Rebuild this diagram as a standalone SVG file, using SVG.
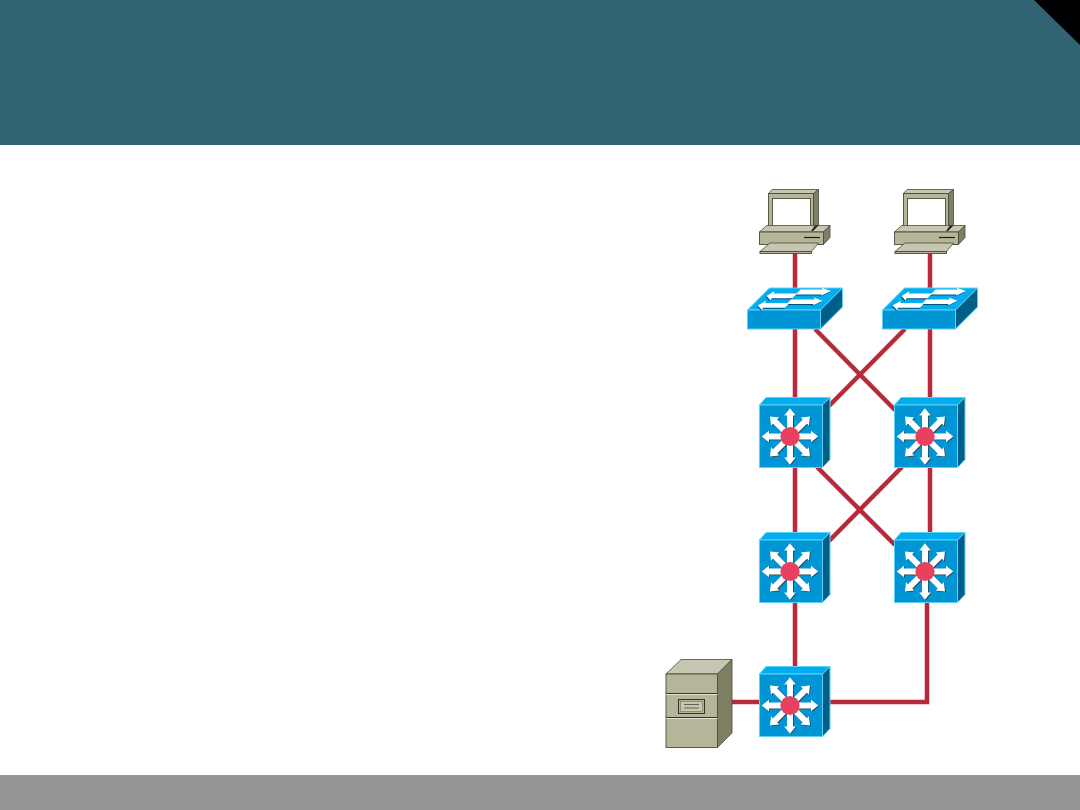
<svg xmlns="http://www.w3.org/2000/svg" width="1080" height="810" viewBox="0 0 1080 810">
  <style>
    .link { fill: none; stroke: #b8293b; stroke-width: 4.5; }
    .beige-front { fill: #b5b59a; stroke: #4a4a3c; stroke-width: .9; }
    .beige-top { fill: #c6c6b2; stroke: #4a4a3c; stroke-width: .8; }
    .beige-side { fill: #7f7f64; stroke: #4a4a3c; stroke-width: .8; }
    .blue-front { fill: #0096d6; stroke: #5fd0f5; stroke-width: 1; }
    .blue-top { fill: #00aef0; stroke: #5fd0f5; stroke-width: 1; }
    .blue-side { fill: #005f88; stroke: #5fd0f5; stroke-width: 1; }
    .ray-shade { fill: #2a4552; }
    .ray-face { fill: #fff; }
    .flow { fill: #fff; }
    .flow-shade { fill: #00507a; }
  </style>
  <defs>
    <!-- Desktop computer: monitor, base unit and keyboard -->
    <g id="pc">
      <polygon class="beige-top" points="768.5,193.5 772,189.5 818.5,189.5 813.5,193.5"/>
      <polygon class="beige-side" points="813.5,193.5 818.5,189.5 818.5,226 813.5,231"/>
      <rect class="beige-front" x="768.5" y="193.5" width="45" height="37.5"/>
      <rect x="772.5" y="198.5" width="38" height="28" fill="#fff" stroke="#4a4a3c" stroke-width=".9"/>
      <polygon class="beige-top" points="759.5,232 766.5,225.5 830,225.5 823.5,232"/>
      <polygon class="beige-side" points="823.5,232 830,225.5 830,237.5 823.5,244.5"/>
      <rect class="beige-front" x="759.5" y="232" width="64" height="12.5"/>
      <line x1="804" y1="237.5" x2="820" y2="237.5" stroke="#1f1f18" stroke-width="1.2"/>
      <polygon points="813,231 818.5,225.5 815,225.5 811,231" fill="#1f1f18"/>
      <polygon class="beige-top" points="760,251.5 770,243 818.5,243 811.5,251.5"/>
      <rect class="beige-front" x="760" y="251.5" width="51.5" height="2"/>
    </g>
    <!-- The two left-pointing and two right-pointing arrows on the switch lid -->
    <g id="flows">
      <polygon points="766.5,296 774.5,291 773.5,293.5 797,293.5 792.5,298.3 771.5,298.3 770.5,300.5"/>
      <polygon points="800.5,289.6 822.5,289.6 821.5,287.8 831,291 821,295.8 821.5,294.4 795.5,294.4"/>
      <polygon points="757.5,305.5 766,300.8 765,303 789.5,303 785,307.8 763,307.8 762,310"/>
      <polygon points="791,299.4 814.5,299.4 813.5,297.4 822.5,300.7 813,305.4 813.5,304 786.5,304"/>
    </g>
    <!-- Workgroup switch -->
    <g id="switch">
      <polygon class="blue-top" points="747.5,310 769.5,288 842.5,288 820.5,310"/>
      <polygon class="blue-side" points="820.5,310 842.5,288 842.5,307 820.5,329"/>
      <rect class="blue-front" x="747.5" y="310" width="73" height="19"/>
      <use href="#flows" class="flow-shade" x="-.8" y="1"/>
      <use href="#flows" class="flow"/>
    </g>
    <!-- One pointer of the star, aimed upwards from the hub -->
    <polygon id="ray" points="-3,0 -3,-21 -5.8,-21 0,-28.3 5.8,-21 3,-21 3,0"/>
    <g id="star">
      <use href="#ray"/>
      <use href="#ray" transform="rotate(45)"/>
      <use href="#ray" transform="rotate(90)"/>
      <use href="#ray" transform="rotate(135)"/>
      <use href="#ray" transform="rotate(180)"/>
      <use href="#ray" transform="rotate(225)"/>
      <use href="#ray" transform="rotate(270)"/>
      <use href="#ray" transform="rotate(315)"/>
    </g>
    <!-- Multilayer switch: cube with an eight-way star and a red hub -->
    <g id="l3">
      <polygon class="blue-top" points="759.5,405 766,397.5 830,397.5 822.5,405"/>
      <polygon class="blue-side" points="822.5,405 830,397.5 830,459.5 822.5,467.5"/>
      <rect class="blue-front" x="759.5" y="405" width="63" height="62.5"/>
      <g transform="translate(790 436.5)">
        <use href="#star" class="ray-shade" x=".8" y=".8"/>
        <use href="#star" class="ray-face"/>
        <circle r="9.6" fill="#e8405f"/>
      </g>
    </g>
  </defs>

  <rect id="header" x="0" y="0" width="1080" height="145" fill="#316372"/>
  <polygon id="corner" points="1034,0 1080,0 1080,45" fill="#000"/>
  <rect id="footer" x="0" y="775" width="1080" height="35" fill="#969696"/>

  <g id="connectors">
    <line class="link" x1="795" y1="250" x2="795" y2="292"/>
    <line class="link" x1="930" y1="250" x2="930" y2="292"/>
    <line class="link" x1="795" y1="329" x2="795" y2="400"/>
    <line class="link" x1="930" y1="329" x2="930" y2="400"/>
    <line class="link" x1="815" y1="329" x2="895" y2="410"/>
    <line class="link" x1="905" y1="329" x2="829" y2="406"/>
    <line class="link" x1="795" y1="467" x2="795" y2="535"/>
    <line class="link" x1="930" y1="467" x2="930" y2="535"/>
    <line class="link" x1="817" y1="467" x2="895" y2="545"/>
    <line class="link" x1="902" y1="467" x2="829" y2="541"/>
    <line class="link" x1="795" y1="602" x2="795" y2="668"/>
    <line class="link" x1="730" y1="702" x2="762" y2="702"/>
    <polyline class="link" points="829,702 927,702 927,602"/>
  </g>

  <g id="pc-left"><use href="#pc"/></g>
  <g id="pc-right"><use href="#pc" x="135"/></g>
  <g id="switch-left"><use href="#switch"/></g>
  <g id="switch-right"><use href="#switch" x="135"/></g>
  <g id="l3-upper-left"><use href="#l3"/></g>
  <g id="l3-upper-right"><use href="#l3" x="135"/></g>
  <g id="l3-lower-left"><use href="#l3" y="135"/></g>
  <g id="l3-lower-right"><use href="#l3" x="135" y="135"/></g>
  <g id="l3-bottom"><use href="#l3" y="269"/></g>

  <g id="server">
    <polygon class="beige-top" points="666,674 681,659.5 732,659.5 717.5,674"/>
    <polygon class="beige-side" points="717.5,674 732,659.5 732,733 717.5,747.5"/>
    <rect class="beige-front" x="666" y="674" width="51.5" height="73.5"/>
    <line x1="666" y1="693.5" x2="717.5" y2="693.5" stroke="#33332a"/>
    <line x1="666" y1="694.5" x2="717.5" y2="694.5" stroke="#e4e4d8"/>
    <line x1="666" y1="717.5" x2="717.5" y2="717.5" stroke="#33332a"/>
    <line x1="666" y1="718.5" x2="717.5" y2="718.5" stroke="#e4e4d8"/>
    <rect x="678.5" y="699.5" width="26" height="14" fill="#b5b59a" stroke="#33332a"/>
    <rect x="680.5" y="701.5" width="22" height="10" fill="#c6c6b2" stroke="#6f6f5a" stroke-width=".6"/>
    <line x1="684" y1="704.5" x2="699" y2="704.5" stroke="#33332a" stroke-width=".7"/>
    <line x1="684" y1="708" x2="699" y2="708" stroke="#33332a" stroke-width=".7"/>
  </g>
</svg>
